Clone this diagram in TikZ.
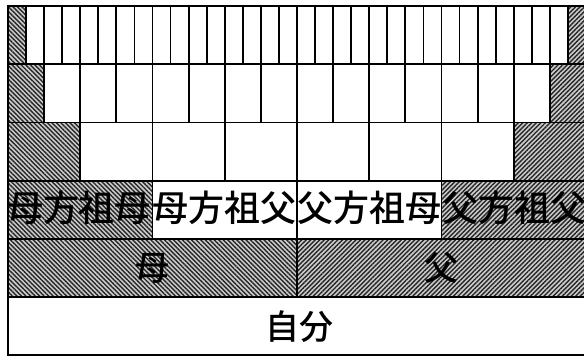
\documentclass[tikz,border=0pt]{standalone}
\usepackage{fontspec}
\newfontfamily\jp{Noto Sans CJK JP}[UprightFont={* Medium}]
\usetikzlibrary{patterns.meta}
\begin{document}
\begin{tikzpicture}[x=1pt,y=-1pt,
  cellline/.style={draw=black,line width=1.8pt},
  hatchbase/.style={fill=gray!40},
  hatchleft/.style={pattern={Lines[angle=-45,distance=3.2pt,line width=1.4pt]},pattern color=black!85},
  hatchright/.style={pattern={Lines[angle=45,distance=3.2pt,line width=1.4pt]},pattern color=black!85},
  biglabel/.style={inner sep=0pt,font=\jp\fontsize{36}{36}\selectfont},
  label/.style={inner sep=0pt,font=\jp\fontsize{34}{34}\selectfont}]
\useasboundingbox (0,0) rectangle (584,356);
\clip (0,0) rectangle (584,356);
\fill[white] (0,0) rectangle (584,356);
% fills
\foreach \r in {0,...,4}{
  \pgfmathtruncatemacro\n{2^(5-\r)}
  \pgfmathsetmacro\w{578/\n}
  \pgfmathsetmacro\ya{6+\r*58.2}
  \pgfmathsetmacro\yb{6+(\r+1)*58.2}
  \pgfmathsetmacro\xr{586-\w}
  \path[hatchbase] (8,\ya) rectangle (8+\w,\yb);
  \path[hatchleft] (8,\ya) rectangle (8+\w,\yb);
  \path[hatchbase] (\xr,\ya) rectangle (586,\yb);
  \path[hatchright] (\xr,\ya) rectangle (586,\yb);
}
% borders
\foreach \r in {0,...,5}{
  \pgfmathtruncatemacro\n{2^(5-\r)}
  \pgfmathtruncatemacro\m{\n-1}
  \pgfmathsetmacro\w{578/\n}
  \pgfmathsetmacro\ya{6+\r*58.2}
  \pgfmathsetmacro\yb{6+(\r+1)*58.2}
  \foreach \i in {0,...,\m}{
    \pgfmathsetmacro\xa{8+\i*\w}
    \pgfmathsetmacro\xb{8+(\i+1)*\w}
    \draw[cellline] (\xa,\ya) rectangle (\xb,\yb);
  }
}
% labels
\node[biglabel] (mgm) at (79,208) {母方祖母};
\node[biglabel] (mgf) at (224.75,208) {母方祖父};
\node[biglabel] (pgm) at (369.25,208) {父方祖母};
\node[biglabel] (pgf) at (514,208) {父方祖父};
\node[label] (mother) at (152.5,268) {母};
\node[label] (father) at (441.5,268) {父};
\node[label] (self) at (299,326.5) {自分};
\end{tikzpicture}
\end{document}
